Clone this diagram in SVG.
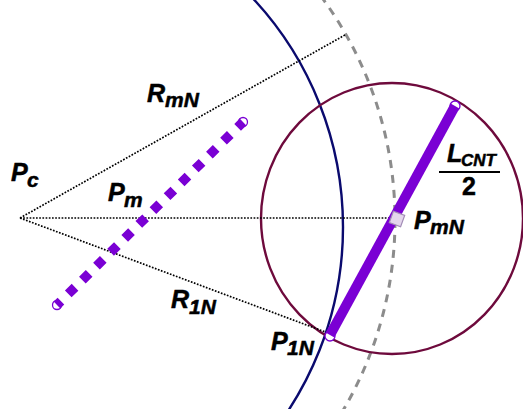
<svg xmlns="http://www.w3.org/2000/svg" width="523" height="409" viewBox="0 0 523 409">
<style>
.lbl{font-family:"Liberation Sans",Arial,sans-serif;font-weight:bold;font-style:italic;fill:#000;stroke:#000;stroke-width:0.5}
.main{font-size:25px}
.sub{font-size:21px}
.sub2{font-size:17px}
.dot{fill:none;stroke:#000;stroke-width:1.7;stroke-dasharray:1.7 1.5}
.end{fill:#fff;stroke:#7a00d4;stroke-width:1.3}
</style>
<rect width="523" height="409" fill="#fff"/>
<g id="arcs">
<circle id="arc-R1N" cx="8" cy="227" r="335" fill="none" stroke="#0a0a6e" stroke-width="2.4"/>
<circle id="arc-RmN" cx="20" cy="220" r="375" fill="none" stroke="#8c8c8c" stroke-width="3" stroke-dasharray="8 7"/>
<ellipse id="cnt-circle" cx="392" cy="218.5" rx="131" ry="135.5" fill="none" stroke="#6e0a3c" stroke-width="2.4"/>
</g>
<g id="connectors">
<line class="dot" x1="20" y1="218" x2="345" y2="35"/>
<line class="dot" x1="20" y1="218" x2="397" y2="218"/>
<line class="dot" x1="20" y1="218" x2="328" y2="333"/>
</g>
<g id="cnt-m">
<circle class="end" cx="57" cy="305" r="4.5"/>
<circle class="end" cx="243" cy="122" r="4.5"/>
<line x1="57" y1="305" x2="243" y2="122" stroke="#7a00d4" stroke-width="9.5" stroke-dasharray="9.5 10.3" stroke-dashoffset="4"/>
</g>
<g id="cnt-N">
<circle class="end" cx="330" cy="336" r="5"/>
<circle class="end" cx="455" cy="106" r="5"/>
<line x1="330" y1="335" x2="455" y2="106" stroke="#7a00d4" stroke-width="10"/>
</g>
<g id="PmN-marker">
<rect x="391" y="213" width="12" height="12" fill="#e4d6ec" stroke="#a28cb6" stroke-width="1.2" transform="rotate(20 397 219)"/>
</g>
<g id="labels">
<text class="lbl"><tspan class="main" x="11" y="181">P</tspan><tspan class="sub" x="27" y="187">c</tspan></text>
<text class="lbl"><tspan class="main" x="108" y="201">P</tspan><tspan class="sub" x="124" y="207">m</tspan></text>
<text class="lbl"><tspan class="main" x="147" y="102">R</tspan><tspan class="sub" x="165" y="107">mN</tspan></text>
<text class="lbl"><tspan class="main" x="171" y="308">R</tspan><tspan class="sub" x="189" y="314">1N</tspan></text>
<text class="lbl"><tspan class="main" x="414" y="229">P</tspan><tspan class="sub" x="430" y="234">mN</tspan></text>
<text class="lbl"><tspan class="main" x="271" y="350">P</tspan><tspan class="sub" x="287" y="355">1N</tspan></text>
<text class="lbl"><tspan class="main" x="447" y="162">L</tspan><tspan class="sub2" x="461" y="166">CNT</tspan></text>
<line x1="439" y1="172" x2="500" y2="172" stroke="#000" stroke-width="2"/>
<text class="lbl main" x="469" y="195" text-anchor="middle" style="font-style:normal">2</text>
</g>
</svg>
